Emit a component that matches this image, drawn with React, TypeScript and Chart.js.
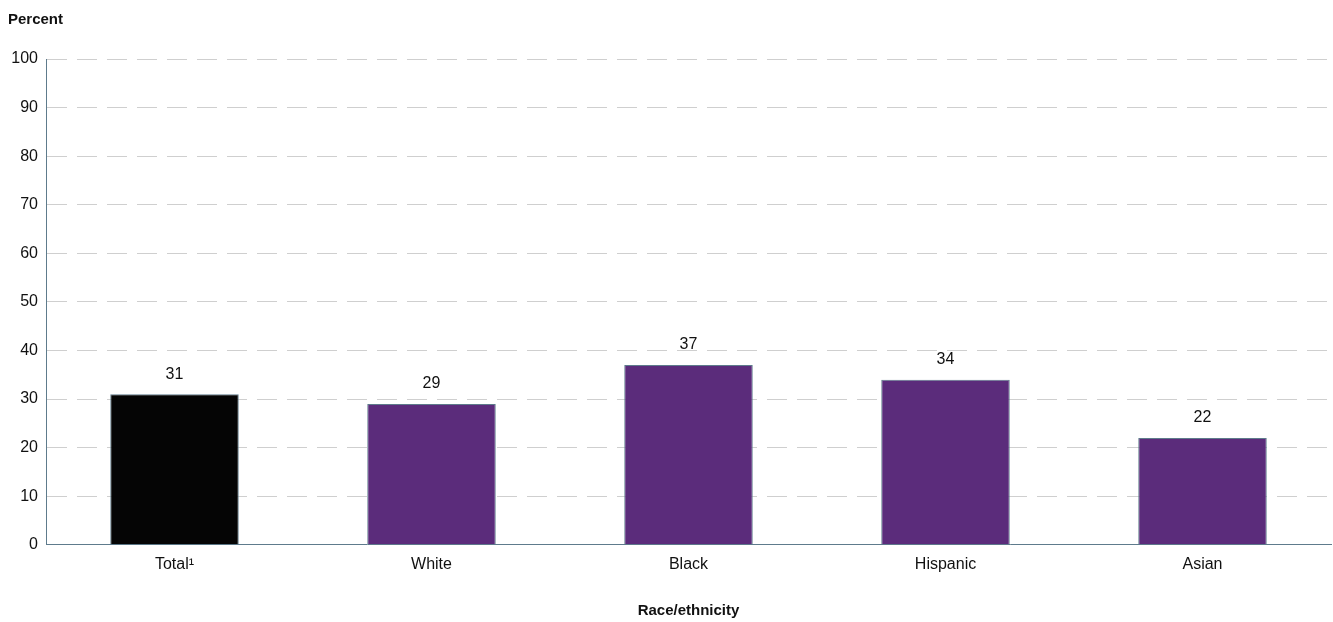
import React, { useEffect, useRef } from "react";
import { Chart, registerables } from "chart.js";

Chart.register(...registerables);

const categories = ["Total¹", "White", "Black", "Hispanic", "Asian"];
const values = [31, 29, 37, 34, 22];
const barColors = ["#050505", "#5B2C7B", "#5B2C7B", "#5B2C7B", "#5B2C7B"];
const yTicks = [0, 10, 20, 30, 40, 50, 60, 70, 80, 90, 100];

const FONT = "Arial, 'Liberation Sans', sans-serif";

const labelsPlugin = {
  id: "valueLabels",
  afterDatasetsDraw(chart: any) {
    const ctx = chart.ctx;
    const meta = chart.getDatasetMeta(0);
    ctx.save();
    ctx.font = `16px ${FONT}`;
    ctx.fillStyle = "#111";
    ctx.textAlign = "center";
    ctx.textBaseline = "bottom";
    meta.data.forEach((bar: any, i: number) => {
      ctx.fillText(String(values[i]), bar.x, bar.y - 12);
    });
    ctx.font = `bold 15px ${FONT}`;
    ctx.textAlign = "left";
    ctx.textBaseline = "middle";
    ctx.fillStyle = "#111";
    ctx.fillText("Percent", 8, 20);
    ctx.restore();
  },
};

export default function App() {
  const ref = useRef<HTMLCanvasElement>(null);
  useEffect(() => {
    document.body.style.margin = "0";
    const chart = new Chart(ref.current!, {
      type: "bar",
      data: {
        labels: categories,
        datasets: [
          {
            data: values,
            backgroundColor: barColors,
            borderColor: "#5E7B8C",
            borderWidth: 1,
            categoryPercentage: 1,
            barPercentage: 0.5,
          },
        ],
      },
      options: {
        animation: false,
        responsive: false,
        maintainAspectRatio: false,
        layout: { padding: { top: 59, right: 2, left: 0, bottom: 2 } },
        plugins: { legend: { display: false }, tooltip: { enabled: false } },
        scales: {
          x: {
            grid: { display: false, drawTicks: false },
            border: { color: "#5E7B8C", width: 1 },
            ticks: { font: { size: 16, family: FONT }, color: "#111", padding: 10 },
            title: {
              display: true,
              text: "Race/ethnicity",
              font: { size: 15, weight: "bold", family: FONT },
              color: "#111",
              padding: { top: 18, bottom: 0 },
            },
          },
          y: {
            min: 0,
            max: 100,
            afterFit(scale: any) {
              scale.width = 46;
            },
            afterBuildTicks(scale: any) {
              scale.ticks = yTicks.map((v) => ({ value: v }));
            },
            grid: {
              color: "#CFCFCF",
              drawTicks: false,
            },
            border: { color: "#5E7B8C", width: 1, dash: [20, 10] },
            ticks: { font: { size: 16, family: FONT }, color: "#111", padding: 8 },
          },
        },
      } as any,
      plugins: [labelsPlugin],
    });
    return () => chart.destroy();
  }, []);
  return (
    <div style={{ position: "fixed", left: 0, top: 0, width: 1333, height: 622 }}>
      <canvas ref={ref} width={1333} height={622} />
    </div>
  );
}
